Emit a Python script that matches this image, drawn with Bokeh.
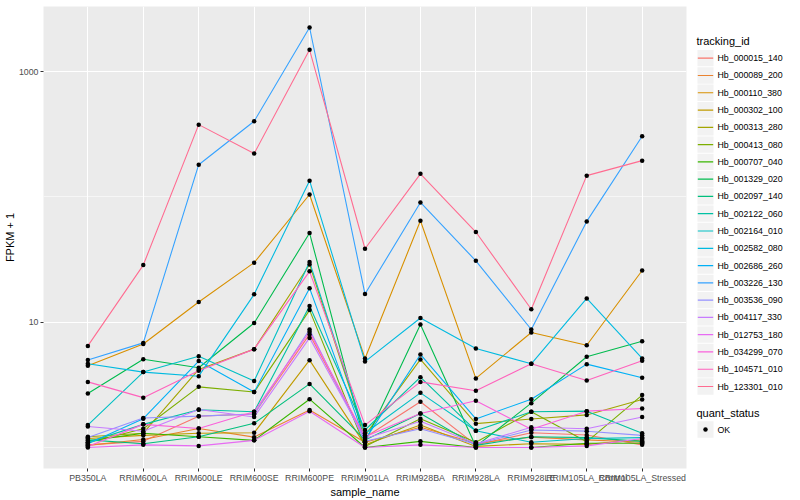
import math
from bokeh.plotting import figure
from bokeh.models import FactorRange, Range1d, FixedTicker, PrintfTickFormatter
from bokeh.layouts import row
from bokeh.embed import file_html
from bokeh.resources import INLINE
from bokeh.core.properties import value

samples = ["PB350LA", "RRIM600LA", "RRIM600LE", "RRIM600SE", "RRIM600PE", "RRIM901LA",
           "RRIM928BA", "RRIM928LA", "RRIM928LE", "RRIM105LA_Control", "RRIM105LA_Stressed"]

tracking_ids = ["Hb_000015_140", "Hb_000089_200", "Hb_000110_380", "Hb_000302_100", "Hb_000313_280",
                "Hb_000413_080", "Hb_000707_040", "Hb_001329_020", "Hb_002097_140", "Hb_002122_060",
                "Hb_002164_010", "Hb_002582_080", "Hb_002686_260", "Hb_003226_130", "Hb_003536_090",
                "Hb_004117_330", "Hb_012753_180", "Hb_034299_070", "Hb_104571_010", "Hb_123301_010"]

colors = ["#F8766D", "#EA8331", "#D89000", "#C09B00", "#A3A500", "#7CAE00", "#39B600", "#00BB4E",
          "#00BF7D", "#00C1A3", "#00BFC4", "#00BAE0", "#00B0F6", "#35A2FF", "#9590FF", "#C77CFF",
          "#E76BF3", "#FA62DB", "#FF62BC", "#FF6C91"]

# FPKM + 1 per sample
hb_000015_140 = [1.05, 1.12, 1.78, 1.85, 8.0, 1.2, 2.32, 1.05, 1.31, 1.26, 1.05]
hb_000089_200 = [1.04, 1.16, 1.42, 1.21, 1.99, 1.1, 1.45, 1.08, 1.21, 1.15, 1.1]
hb_000110_380 = [4.5, 6.7, 14.5, 29.9, 104.7, 5.14, 64.6, 3.56, 8.28, 6.55, 25.9]
hb_000302_100 = [1.18, 1.25, 1.3, 1.31, 4.98, 1.05, 1.51, 1.02, 1.07, 1.06, 1.15]
hb_000313_280 = [1.22, 1.30, 4.2, 6.1, 28.9, 1.25, 5.05, 1.55, 1.69, 1.82, 2.42]
hb_000413_080 = [1.09, 1.41, 3.05, 2.77, 12.5, 1.02, 1.7, 1.1, 1.93, 1.11, 2.62]
hb_000707_040 = [1.13, 1.3, 1.22, 1.14, 2.43, 1.0, 1.12, 1.0, 1.0, 1.08, 1.08]
hb_001329_020 = [2.70, 5.07, 4.33, 9.87, 51.5, 1.1, 9.6, 1.02, 2.26, 5.3, 7.05]
hb_002097_140 = [1.15, 1.07, 1.22, 1.56, 3.22, 1.15, 1.87, 1.04, 1.22, 1.2, 1.12]
hb_002122_060 = [1.10, 1.53, 2.0, 1.93, 13.5, 1.38, 3.64, 1.36, 1.93, 1.95, 1.3]
hb_002164_010 = [1.51, 4.0, 5.36, 3.39, 30.3, 1.3, 2.73, 1.36, 1.1, 1.18, 1.2]
hb_002582_080 = [4.66, 4.0, 3.71, 16.7, 135.0, 4.85, 10.8, 6.17, 4.66, 15.5, 5.14]
hb_002686_260 = [1.07, 1.70, 4.9, 2.77, 18.7, 1.15, 5.53, 1.69, 2.43, 4.63, 3.6]
hb_003226_130 = [5.0, 6.84, 181.0, 402.0, 2254.0, 16.8, 90.4, 30.9, 8.75, 63.8, 305.0]
hb_003536_090 = [1.2, 1.72, 1.78, 1.85, 8.75, 1.12, 1.41, 1.06, 1.38, 1.35, 1.25]
hb_004117_330 = [1.47, 1.35, 2.01, 1.75, 7.5, 1.18, 1.62, 1.07, 1.45, 1.41, 1.75]
hb_012753_180 = [1.0, 1.05, 1.03, 1.14, 1.95, 1.0, 1.05, 1.0, 1.0, 1.03, 1.18]
hb_034299_070 = [1.02, 1.53, 1.42, 1.93, 8.4, 1.22, 1.87, 2.36, 1.4, 1.95, 2.05]
hb_104571_010 = [3.34, 2.5, 4.1, 6.1, 25.5, 1.51, 3.34, 2.84, 4.66, 3.43, 4.92]
hb_123301_010 = [6.47, 28.6, 378.0, 222.0, 1496.0, 38.6, 153.0, 52.5, 12.7, 148.0, 195.0]

series = [hb_000015_140, hb_000089_200, hb_000110_380, hb_000302_100, hb_000313_280,
          hb_000413_080, hb_000707_040, hb_001329_020, hb_002097_140, hb_002122_060,
          hb_002164_010, hb_002582_080, hb_002686_260, hb_003226_130, hb_003536_090,
          hb_004117_330, hb_012753_180, hb_034299_070, hb_104571_010, hb_123301_010]

quant_levels = ["OK"]

FONT = "Liberation Sans"
W_MAIN, W_LEG, H = 690, 110, 500
TOP, BOTTOM = 6, 32

allv = [v for s in series for v in s]
lo, hi = math.log10(min(allv)), math.log10(max(allv))
pad = 0.05 * (hi - lo)

p = figure(width=W_MAIN, height=H,
           x_range=FactorRange(factors=samples, range_padding=0.3, range_padding_units="absolute"),
           y_axis_type="log", y_range=Range1d(10 ** (lo - pad), 10 ** (hi + pad)),
           output_backend="svg", toolbar_location=None,
           min_border_left=0, min_border_right=4, min_border_top=TOP, min_border_bottom=0,
           background_fill_color="#EBEBEB", border_fill_color="white", outline_line_color=None)

for col, vals in zip(colors, series):
    p.line(x=samples, y=vals, line_color=col, line_width=1.1)
for vals in series:
    p.scatter(x=samples, y=vals, marker="circle", size=4.5, fill_color="black", line_color=None)

p.yaxis.ticker = FixedTicker(ticks=[10, 1000], minor_ticks=[1, 100])
p.yaxis.formatter = PrintfTickFormatter(format="%d")
for ax in (p.xaxis[0], p.yaxis[0]):
    ax.axis_line_color = None
    ax.major_tick_line_color = "#333333"
    ax.major_tick_out = 3
    ax.major_tick_in = 0
    ax.minor_tick_line_color = None
    ax.major_label_text_font = FONT
    ax.major_label_text_font_size = "8.8px"
    ax.major_label_text_color = "#4D4D4D"
    ax.major_label_standoff = 1
    ax.axis_label_text_font = FONT
    ax.axis_label_text_font_size = "11px"
    ax.axis_label_text_font_style = "normal"
    ax.axis_label_text_color = "black"
    ax.axis_label_standoff = 0
p.xaxis.axis_label = "sample_name"
p.yaxis.axis_label = "FPKM + 1"

p.xgrid.grid_line_color = "white"
p.xgrid.grid_line_width = 1.1
p.ygrid.grid_line_color = "white"
p.ygrid.grid_line_width = 1.1
p.ygrid.minor_grid_line_color = "white"
p.ygrid.minor_grid_line_width = 0.55

# legend panel: coordinates in page pixels (x relative to panel left, y absolute)
leg = figure(width=W_LEG, height=H, x_range=Range1d(0, W_LEG), y_range=Range1d(H - BOTTOM, TOP),
             output_backend="svg", toolbar_location=None,
             min_border_left=0, min_border_right=0, min_border_top=TOP, min_border_bottom=BOTTOM,
             outline_line_color=None, background_fill_color="white", border_fill_color="white")
leg.axis.visible = False
leg.grid.visible = False

n = len(tracking_ids)
ys = [57.7 + 17.28 * i for i in range(n)]
leg.rect(x=[15] * n, y=ys, width=16, height=16.3, fill_color="#F2F2F2", line_color=None)
leg.rect(x=[15] * n, y=ys, width=15.4, height=1.2, fill_color=colors, line_color=None)
leg.text(x=[27] * n, y=ys, text=tracking_ids, text_font=value(FONT), text_font_size="8.8px",
         text_baseline="middle", text_align="left", text_color="black")
leg.text(x=[6], y=[40.7], text=["tracking_id"], text_font=value(FONT), text_font_size="11px",
         text_baseline="middle", text_color="black")

qy = [429 + 17.28 * i for i in range(len(quant_levels))]
leg.text(x=[6], y=[412.3], text=["quant_status"], text_font=value(FONT), text_font_size="11px",
         text_baseline="middle", text_color="black")
leg.rect(x=[15] * len(qy), y=qy, width=16, height=16.3, fill_color="#F2F2F2", line_color=None)
leg.scatter(x=[15] * len(qy), y=qy, marker="circle", size=4.5, fill_color="black", line_color=None)
leg.text(x=[27] * len(qy), y=qy, text=quant_levels, text_font=value(FONT), text_font_size="8.8px",
         text_baseline="middle", text_color="black")

layout = row(p, leg)
open("out.html", "w").write(file_html(layout, INLINE))
